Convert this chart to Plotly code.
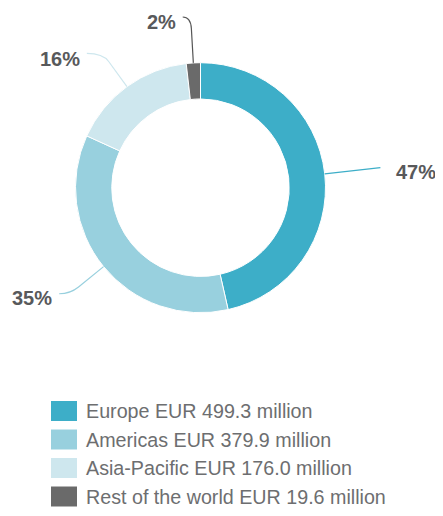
import math
import plotly.graph_objects as go

# ---- data ----
regions = ["Europe", "Americas", "Asia-Pacific", "Rest of the world"]
revenue_eur_m = [499.3, 379.9, 176.0, 19.6]
pct_labels = ["47%", "35%", "16%", "2%"]
legend_labels = [
    "Europe EUR 499.3 million",
    "Americas EUR 379.9 million",
    "Asia-Pacific EUR 176.0 million",
    "Rest of the world EUR 19.6 million",
]
colors = ["#3DAEC8", "#98D0DE", "#CEE7EE", "#6A6A6A"]

# ---- layout constants (pixels in the window) ----
W, H = 443, 516
OFF = 8  # default page body margin
FW, FH = W - OFF, H - OFF
CX, CY, R = 200.5, 187.7, 125.0
HOLE = 0.71
TEXT_COLOR = "#58595B"
radial_len = [56, 43, 41, 46]
tail_len = [0, 11, 16, 8]
label_dy = [4, 4, 6, 5]


def px(x):
    return (x - OFF) / FW


def py(y):
    return 1 - (y - OFF) / FH


fig = go.Figure()
fig.add_trace(go.Pie(
    labels=regions,
    values=revenue_eur_m,
    hole=HOLE,
    sort=False,
    direction="clockwise",
    rotation=0,
    marker=dict(colors=colors, line=dict(color="white", width=1)),
    textinfo="none",
    hoverinfo="label+value+percent",
    showlegend=False,
    domain=dict(x=[px(CX - R), px(CX + R)], y=[py(CY + R), py(CY - R)]),
))

shapes = []
annotations = []
total = sum(revenue_eur_m)
cum = 0.0
for i, v in enumerate(revenue_eur_m):
    mid = (cum + v / 2) / total * 2 * math.pi
    cum += v
    dx, dy = math.sin(mid), -math.cos(mid)
    x0, y0 = CX + R * dx, CY + R * dy
    ex, ey = CX + (R + radial_len[i]) * dx, CY + (R + radial_len[i]) * dy
    side = 1 if dx > 0.2 else -1
    endx, endy = ex + side * tail_len[i], ey
    if tail_len[i] > 0:
        bx, by = x0 + (ex - x0) * 0.75, y0 + (ey - y0) * 0.75
        path = (f"M {px(x0)},{py(y0)} L {px(bx)},{py(by)} "
                f"Q {px(ex)},{py(ey)} {px(endx)},{py(endy)}")
    else:
        path = f"M {px(x0)},{py(y0)} L {px(ex)},{py(ey)}"
    shapes.append(dict(type="path", path=path, xref="paper", yref="paper",
                       line=dict(color=colors[i] if i < 3 else "#555555", width=1.2)))
    gap = 14 if tail_len[i] == 0 else 5
    annotations.append(dict(
        x=px(endx + side * gap), y=py(endy + label_dy[i]), xref="paper", yref="paper",
        text=f"<b>{pct_labels[i]}</b>", showarrow=False,
        xanchor="left" if side > 0 else "right", yanchor="middle",
        font=dict(family="Liberation Sans, Arial, sans-serif", size=20, color=TEXT_COLOR),
    ))

# ---- custom legend ----
LX, LY0, PITCH = 51, 411, 28.5
SW, SH = 26, 20
for i, lab in enumerate(legend_labels):
    yc = LY0 + i * PITCH
    shapes.append(dict(type="rect", xref="paper", yref="paper",
                       x0=px(LX), x1=px(LX + SW), y0=py(yc - SH / 2), y1=py(yc + SH / 2),
                       fillcolor=colors[i], line=dict(width=0)))
    annotations.append(dict(
        x=px(LX + SW + 7), y=py(yc), xref="paper", yref="paper",
        text=lab, showarrow=False, xanchor="left", yanchor="middle",
        font=dict(family="Liberation Sans, Arial, sans-serif", size=19.7, color="#6D6E70"),
    ))

fig.update_layout(
    width=FW, height=FH,
    margin=dict(l=0, r=0, t=0, b=0),
    paper_bgcolor="white", plot_bgcolor="white",
    shapes=shapes, annotations=annotations,
    showlegend=False,
)

fig.write_html("out.html")
